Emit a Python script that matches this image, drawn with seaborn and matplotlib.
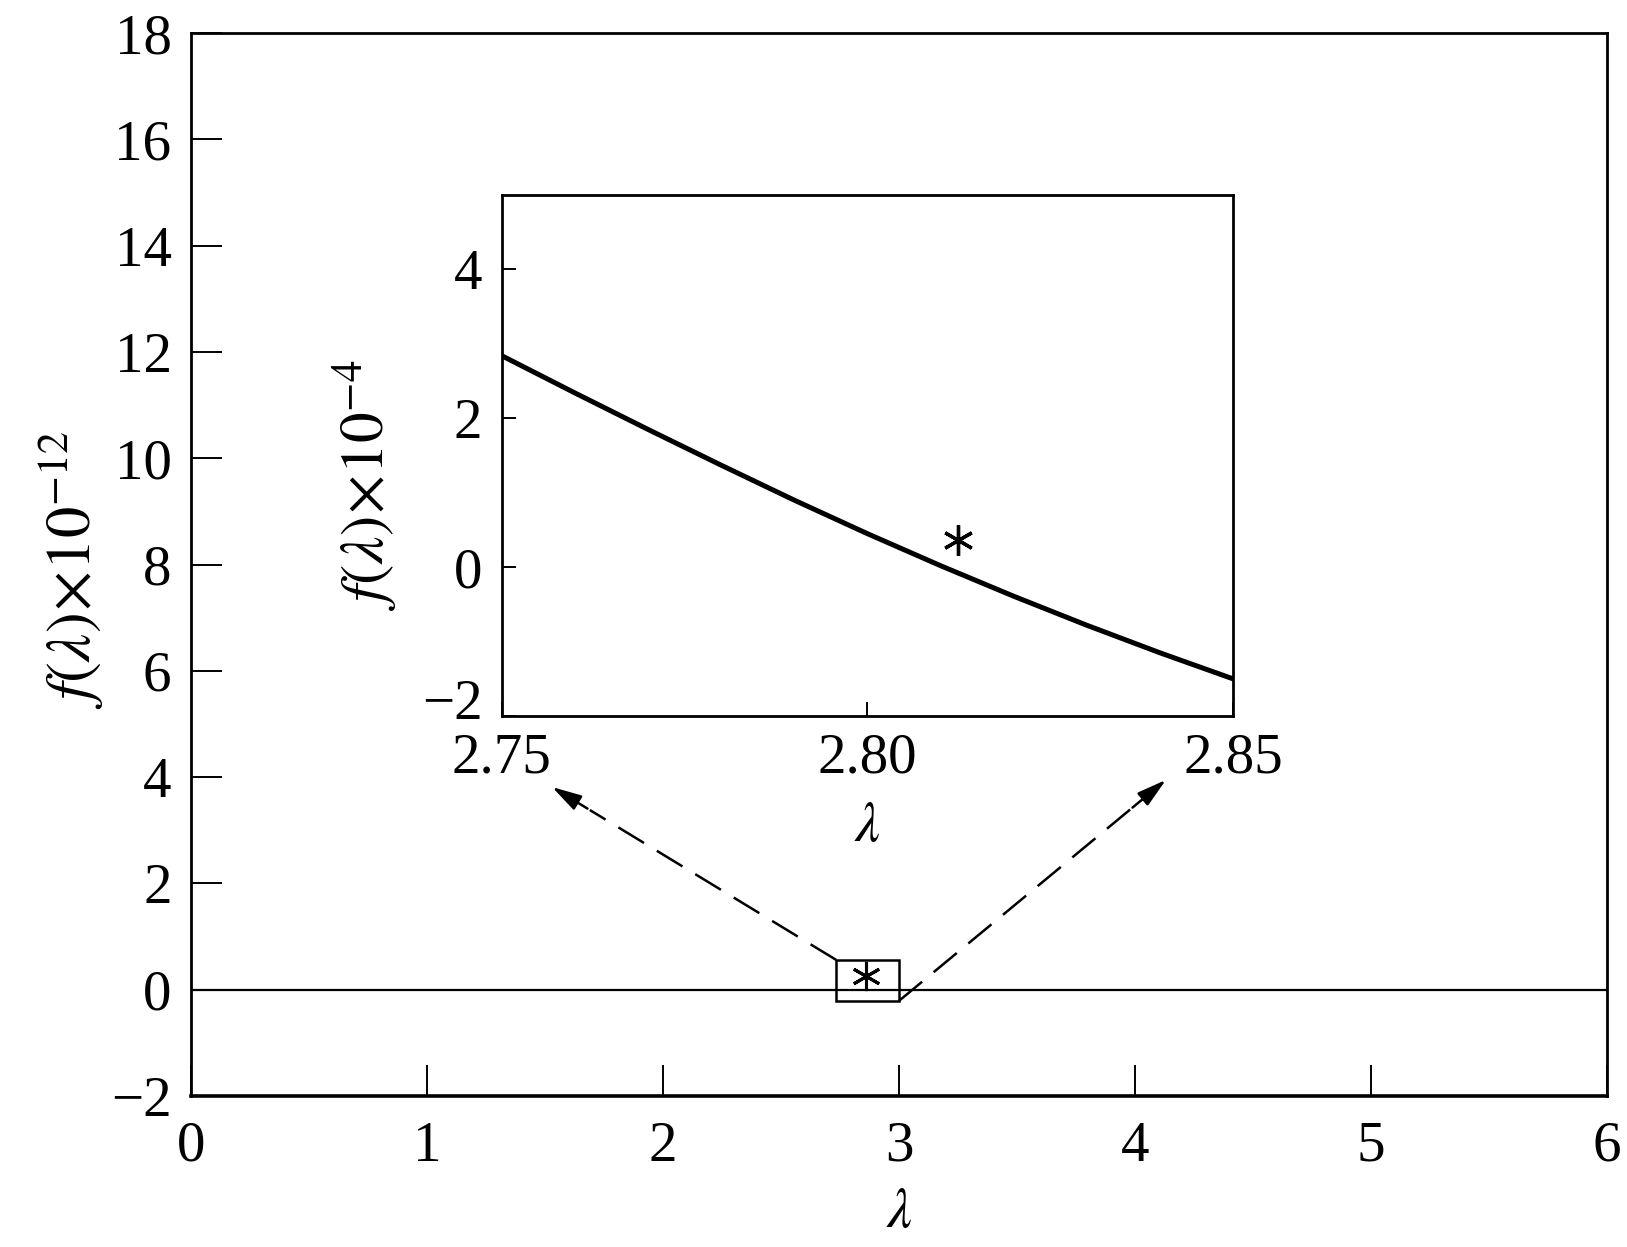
import matplotlib
matplotlib.use("Agg")
import matplotlib.pyplot as plt
import matplotlib.transforms as mtransforms
import seaborn as sns
import pandas as pd
from matplotlib.patches import Rectangle

# main curve f(lambda) x 1e-12 (flat at zero on this scale)
lam_main = [0, 1, 2, 3, 4, 5, 6]
f_main = [0, 0, 0, 0, 0, 0, 0]

# zoomed curve f(lambda) x 1e-4 near the root
lam_zoom = [2.75, 2.76, 2.77, 2.78, 2.79, 2.80, 2.81, 2.82, 2.83, 2.84, 2.85]
f_zoom = [2.84, 2.34, 1.85, 1.37, 0.90, 0.45, 0.02, -0.39, -0.78, -1.15, -1.50]

# root markers (main view and inset)
star_main = (2.86, 0.25)
star_zoom = (2.8124, 0.36)

# zoom box and the two arrows (start, tip) in main-axes data units
box = (2.734, -0.21, 3.0, 0.56)
arrow_left = ((2.734, 0.56), (1.52, 3.84))
arrow_right = ((3.0, -0.21), (4.14, 3.98))

main_xticks = [0, 1, 2, 3, 4, 5, 6]
main_yticks = [-2, 0, 2, 4, 6, 8, 10, 12, 14, 16, 18]
zoom_xticks = [2.75, 2.80, 2.85]
zoom_xlabels = ["2.75", "2.80", "2.85"]
zoom_yticks = [-2, 0, 2, 4]

sns.set_style("ticks")
plt.rcParams["font.family"] = ["Liberation Serif", "DejaVu Serif"]
plt.rcParams["mathtext.fontset"] = "stix"
for k in ["text.color", "axes.labelcolor", "xtick.color", "ytick.color", "axes.edgecolor"]:
    plt.rcParams[k] = "black"

fig = plt.figure(figsize=(16.27, 12.47), dpi=100)
ax = fig.add_axes([0.1174, 0.1211, 0.8703, 0.8524])

df_main = pd.DataFrame({"lam": lam_main, "f": f_main})
sns.lineplot(data=df_main, x="lam", y="f", ax=ax, color="black", linewidth=1.6)

ax.set_xlim(0, 6)
ax.set_ylim(-2, 18)
ax.set_xticks(main_xticks)
ax.set_yticks(main_yticks)
ax.set_yticklabels(["\u22122" if v < 0 else str(v) for v in main_yticks])
ax.tick_params(direction="in", length=22, width=1.4, labelsize=41, pad=14)
ax.tick_params(axis="x", pad=18)
for s in ax.spines.values():
    s.set_linewidth(2)
ax.spines["bottom"].set_linewidth(2.6)
ax.set_xlabel(r"$\lambda$", fontsize=40, labelpad=10)
ax.set_ylabel(r"$f(\lambda)\!\times\!10^{-12}$", fontsize=45)
ax.yaxis.set_label_coords(-0.060, 0.495)

# box around the root and the asterisk
ax.add_patch(Rectangle((box[0], box[1]), box[2] - box[0], box[3] - box[1],
                       fill=False, edgecolor="black", linewidth=1.8))
ax.plot([star_main[0]], [star_main[1]], marker=(6, 2, 0), ms=21, mew=2.2,
        color="black", linestyle="none")

# dashed arrows to the inset: dashed shaft, solid head on the last part
dash = dict(color="black", linewidth=1.8, linestyle=(0, (12, 6)))
head = dict(arrowstyle="-|>,head_length=1.8,head_width=0.5", color="black", lw=1.8)
for (x0, y0), (x1, y1) in [arrow_left, arrow_right]:
    t = 0.86
    xm, ym = x0 + t * (x1 - x0), y0 + t * (y1 - y0)
    ax.plot([x0, xm], [y0, ym], **dash)
    ax.annotate("", xy=(x1, y1), xytext=(xm, ym), arrowprops=head)

# inset
axi = fig.add_axes([0.3085, 0.4258, 0.4493, 0.4178])
df_zoom = pd.DataFrame({"lam": lam_zoom, "f": f_zoom})
sns.lineplot(data=df_zoom, x="lam", y="f", ax=axi, color="black", linewidth=3.6)
axi.set_xlim(2.75, 2.85)
axi.set_ylim(-2, 5)
axi.set_xticks(zoom_xticks)
axi.set_xticklabels(zoom_xlabels)
axi.set_yticks(zoom_yticks)
axi.set_yticklabels(["\u22122" if v < 0 else str(v) for v in zoom_yticks])
axi.tick_params(direction="in", length=10, width=1.4, labelsize=41, pad=14)
axi.tick_params(axis="x", pad=12)
for s in axi.spines.values():
    s.set_linewidth(2)
# lift the lowest inset label so it clears 2.75
lab = axi.get_yticklabels()[0]
lab.set_transform(lab.get_transform() +
                  mtransforms.ScaledTranslation(0, 12 / 72, fig.dpi_scale_trans))
axi.plot([star_zoom[0]], [star_zoom[1]], marker=(6, 2, 0), ms=22, mew=2.4,
         color="black", linestyle="none")
axi.set_xlabel(r"$\lambda$", fontsize=40, labelpad=12)
axi.set_ylabel(r"$f(\lambda)\!\times\!10^{-4}$", fontsize=44)
axi.yaxis.set_label_coords(-0.140, 0.444)

fig.savefig("out.png", dpi=100)
